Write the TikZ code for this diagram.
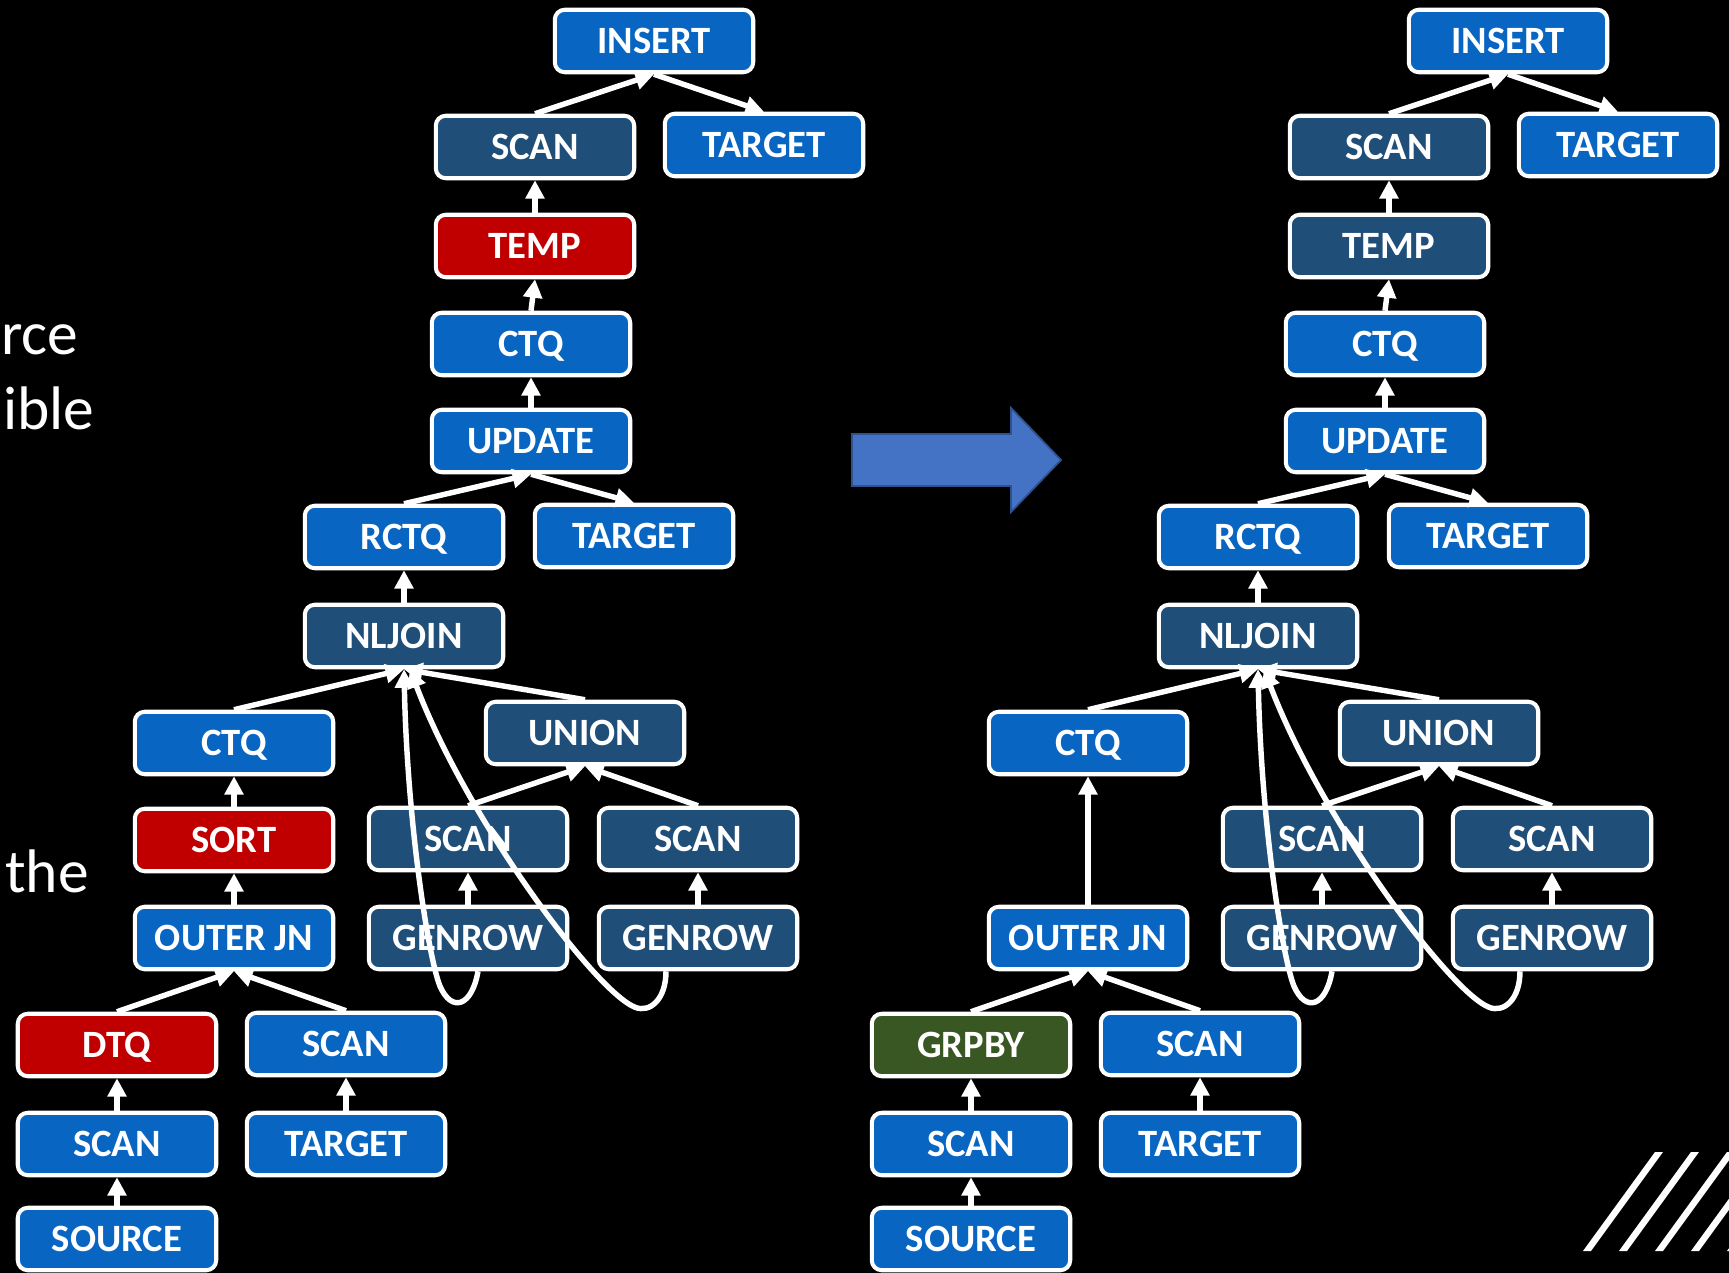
\documentclass[tikz,border=0pt]{standalone}
\usepackage{fontspec}
\setmainfont{Carlito}
\usetikzlibrary{arrows.meta,calc}
\definecolor{opblue}{HTML}{0866C2}
\definecolor{opdark}{HTML}{1F4E79}
\definecolor{opred}{HTML}{C00000}
\definecolor{opgreen}{HTML}{385723}
\definecolor{bigarrow}{HTML}{4472C4}
\definecolor{bigarrowline}{HTML}{2F528F}
\begin{document}
\begin{tikzpicture}[x=0.02cm,y=-0.02cm,
    op/.style={draw=white,line width=2.3pt,rounded corners=0.2cm,minimum width=3.97cm,
        minimum height=1.25cm,inner sep=0pt,text=white,text height=14pt,text depth=0pt,
        font=\fontsize{22}{26}\selectfont\bfseries},
    flow/.style={white,line width=3.1pt,-{Triangle[length=10.5pt,width=10.5pt]}},
    side/.style={text=white,inner sep=0pt,anchor=base west,font=\fontsize{35}{40}\selectfont}]
    \fill[black] (0,0) rectangle (1729,1273);
    \useasboundingbox (0,0) rectangle (1729,1273);
    \node[side] (wa) at (1,355) {rce};
    \node[side] (wb) at (3,430) {ible};
    \node[side] (wc) at (5,892) {the};
    \foreach \tr/\dx/\tempc/\lowc/\lowtxt in {a/0/opred/opred/DTQ,b/854/opdark/opgreen/GRPBY}{
        \node[op,fill=opblue] (\tr-insert) at (\dx+654,41) {INSERT};
        \node[op,fill=opdark] (\tr-scan1) at (\dx+535,147) {SCAN};
        \node[op,fill=opblue] (\tr-tgt1) at (\dx+764,145) {TARGET};
        \node[op,fill=\tempc] (\tr-temp) at (\dx+535,246) {TEMP};
        \node[op,fill=opblue] (\tr-ctq1) at (\dx+531,344) {CTQ};
        \node[op,fill=opblue] (\tr-upd) at (\dx+531,441) {UPDATE};
        \node[op,fill=opblue] (\tr-rctq) at (\dx+404,537) {RCTQ};
        \node[op,fill=opblue] (\tr-tgt2) at (\dx+634,536) {TARGET};
        \node[op,fill=opdark] (\tr-nlj) at (\dx+404,636) {NLJOIN};
        \node[op,fill=opblue] (\tr-ctq2) at (\dx+234,743) {CTQ};
        \node[op,fill=opblue] (\tr-outer) at (\dx+234,938) {OUTER JN};
        \node[op,fill=\lowc] (\tr-low) at (\dx+117,1045) {\lowtxt};
        \node[op,fill=opblue] (\tr-scan2) at (\dx+346,1044) {SCAN};
        \node[op,fill=opblue] (\tr-scan3) at (\dx+117,1144) {SCAN};
        \node[op,fill=opblue] (\tr-tgt3) at (\dx+346,1144) {TARGET};
        \node[op,fill=opblue] (\tr-src) at (\dx+117,1239) {SOURCE};
        \node[op,fill=opdark] (\tr-union) at (\dx+585,733) {UNION};
        \node[op,fill=opdark] (\tr-scan4) at (\dx+468,839) {SCAN};
        \node[op,fill=opdark] (\tr-scan5) at (\dx+698,839) {SCAN};
        \node[op,fill=opdark] (\tr-gen1) at (\dx+468,938) {GENROW};
        \node[op,fill=opdark] (\tr-gen2) at (\dx+698,938) {GENROW};
        \foreach \u/\v in {scan1/insert,temp/scan1,ctq1/temp,upd/ctq1,rctq/upd,nlj/rctq,ctq2/nlj,
            union/nlj,low/outer,scan2/outer,scan3/low,src/scan3,tgt3/scan2,scan4/union,
            scan5/union,gen1/scan4,gen2/scan5}
            \draw[flow] (\tr-\u.north) -- (\tr-\v.south);
        \draw[flow] (\tr-insert.south) -- (\tr-tgt1.north);
        \draw[flow] (\tr-upd.south) -- (\tr-tgt2.north);
        \draw[flow] ($(\tr-gen1.south)+(10,0)$) .. controls +(-6,35) and +(12,27) .. ($(\tr-gen1.south)+(-28,15)$)
            .. controls +(-12,-30) and +(3,150) .. (\tr-nlj.south);
        \draw[flow] ($(\tr-gen2.south)+(-32,0)$) .. controls +(0,28) and +(15,6) .. ($(\tr-gen2.south)+(-63,36)$)
            .. controls +(-40,-16) and +(57,150) .. ($(\tr-nlj.south)+(6,0)$);
    }
    \node[op,fill=opred] (a-sort) at (234,840) {SORT};
    \draw[flow] (a-outer.north) -- (a-sort.south);
    \draw[flow] (a-sort.north) -- (a-ctq2.south);
    \draw[flow] (b-outer.north) -- (b-ctq2.south);
    \draw[bigarrowline,fill=bigarrow,line width=1pt] (852,434) -- (1011,434) -- (1011,408) -- (1061,460)
        -- (1011,512) -- (1011,486) -- (852,486) -- cycle;
    \begin{scope}
        \clip (0,0) rectangle (1729,1273);
        \foreach \x in {1583,1619,...,1727}
            \fill[white] (\x,1251) -- ++(8,0) -- ++(72,-99) -- ++(-8,0) -- cycle;
    \end{scope}
\end{tikzpicture}
\end{document}
